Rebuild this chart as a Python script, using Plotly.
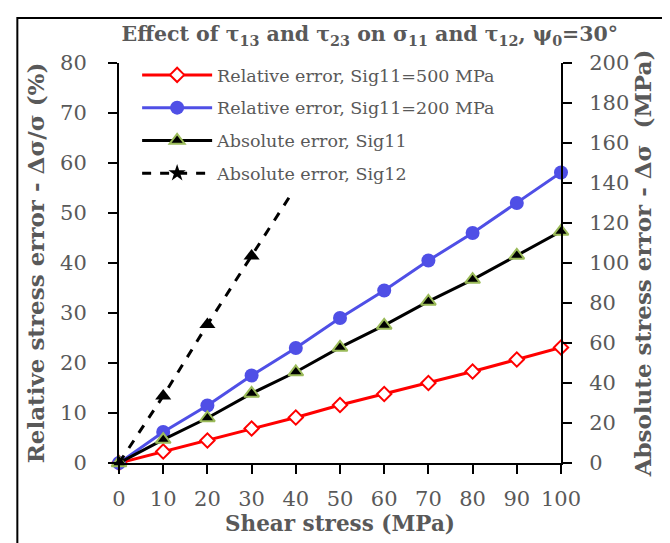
import plotly.graph_objects as go

shear = [0, 10, 20, 30, 40, 50, 60, 70, 80, 90, 100]
rel_500 = [0, 2.3, 4.5, 6.9, 9.1, 11.6, 13.8, 16.0, 18.3, 20.7, 23.1]
rel_200 = [0, 6.2, 11.5, 17.5, 23.0, 29.0, 34.5, 40.5, 46.0, 52.0, 58.1]
abs_sig11 = [0, 11.7, 22.5, 34.8, 45.5, 57.8, 68.8, 80.8, 91.7, 103.8, 115.8]
shear_12 = [0, 10, 20, 30, 40]
abs_sig12 = [0, 33.5, 69.2, 103.5, 138.0]

names = ["Relative error, Sig11=500 MPa", "Relative error, Sig11=200 MPa",
         "Absolute error, Sig11", "Absolute error, Sig12"]

GRAY = "#595959"
FONT = "DejaVu Serif"

fig = go.Figure()
fig.add_trace(go.Scatter(
    x=shear, y=rel_500, name=names[0], mode="lines+markers", legendgroup="a",
    line=dict(color="#FF0000", width=3),
    marker=dict(symbol="diamond", size=11, color="white", line=dict(color="#FF0000", width=2)),
    cliponaxis=False))
fig.add_trace(go.Scatter(
    x=shear, y=rel_200, name=names[1], mode="lines+markers", legendgroup="b",
    line=dict(color="#4F4FE6", width=3),
    marker=dict(symbol="circle", size=14, color="#4F4FE6"),
    cliponaxis=False))
fig.add_trace(go.Scatter(
    x=shear, y=abs_sig11, name=names[2], mode="lines+markers", legendgroup="c",
    yaxis="y2",
    line=dict(color="black", width=3),
    marker=dict(symbol="triangle-up", size=13, color="black", line=dict(color="#9BBB59", width=2)),
    cliponaxis=False))
fig.add_trace(go.Scatter(
    x=shear_12, y=abs_sig12, name=names[3], mode="lines+markers", legendgroup="d",
    yaxis="y2", showlegend=False,
    line=dict(color="black", width=3, dash="dash"),
    marker=dict(symbol="triangle-up", size=14, color="black")))
fig.add_trace(go.Scatter(
    x=[None], y=[None], name=names[3], mode="lines+markers", legendgroup="d",
    yaxis="y2",
    line=dict(color="black", width=3, dash="dash"),
    marker=dict(symbol="star", size=13, color="black")))

axis_common = dict(
    showgrid=False, zeroline=False, showline=True, linecolor="black", linewidth=2,
    ticks="outside", ticklen=9, tickwidth=2, tickcolor="black", automargin=False,
    tickfont=dict(family=FONT, size=21, color=GRAY),
)

fig.update_layout(
    width=670, height=543,
    margin=dict(l=111, r=117, t=55, b=88),
    paper_bgcolor="white", plot_bgcolor="white",
    title=dict(
        text="<b>Effect of τ<sub>13</sub> and τ<sub>23</sub> on σ<sub>11</sub> and τ<sub>12</sub>, ψ<sub>0</sub>=30°</b>",
        x=0.54, xanchor="center", y=0.952, yanchor="middle",
        font=dict(family=FONT, size=20.5, color=GRAY)),
    xaxis=dict(range=[0, 100], dtick=10, tick0=0, ticklabelstandoff=7,
               title=dict(text="<b>Shear stress (MPa)</b>", standoff=6,
                          font=dict(family=FONT, size=21.5, color=GRAY)),
               **axis_common),
    yaxis=dict(range=[0, 80], dtick=10, tick0=0, ticklabelstandoff=17,
               title=dict(text="<b>Relative stress error - Δσ/σ (%)</b>", standoff=9,
                          font=dict(family=FONT, size=23, color=GRAY)),
               **axis_common),
    yaxis2=dict(range=[0, 200], dtick=20, tick0=0, overlaying="y", side="right",
                ticklabelstandoff=13,
                title=dict(text="<b>Absolute stress error - Δσ  (MPa)</b>", standoff=4,
                           font=dict(family=FONT, size=23, color=GRAY)),
                **axis_common),
    legend=dict(x=0.041, y=1.015, xanchor="left", yanchor="top",
                bgcolor="white", borderwidth=0, tracegroupgap=7, itemwidth=70,
                font=dict(family=FONT, size=17.5, color=GRAY), traceorder="grouped"),
    showlegend=True,
)

fig.add_shape(type="rect", xref="paper", yref="paper",
              x0=-0.23, x1=1.263, y0=-0.215, y1=1.1125,
              line=dict(color="black", width=2), fillcolor="rgba(0,0,0,0)", layer="below")

fig.write_html("out.html")
